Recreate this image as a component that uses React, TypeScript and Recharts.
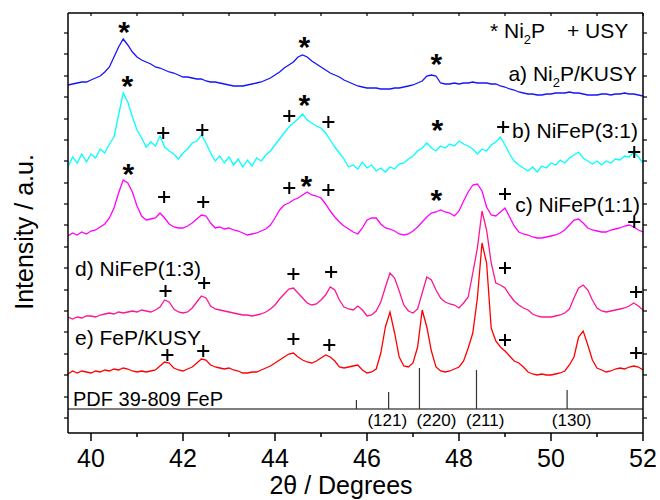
import React from "react";
import { ComposedChart, Line, Scatter, XAxis, YAxis, ReferenceLine } from "recharts";

// 2θ grid (degrees), one value every 0.1°
const twoTheta = [
  39.5, 39.6, 39.7, 39.8, 39.9, 40.0, 40.1, 40.2, 40.3, 40.4,
  40.5, 40.6, 40.7, 40.8, 40.9, 41.0, 41.1, 41.2, 41.3, 41.4,
  41.5, 41.6, 41.7, 41.8, 41.9, 42.0, 42.1, 42.2, 42.3, 42.4,
  42.5, 42.6, 42.7, 42.8, 42.9, 43.0, 43.1, 43.2, 43.3, 43.4,
  43.5, 43.6, 43.7, 43.8, 43.9, 44.0, 44.1, 44.2, 44.3, 44.4,
  44.5, 44.6, 44.7, 44.8, 44.9, 45.0, 45.1, 45.2, 45.3, 45.4,
  45.5, 45.6, 45.7, 45.8, 45.9, 46.0, 46.1, 46.2, 46.3, 46.4,
  46.5, 46.6, 46.7, 46.8, 46.9, 47.0, 47.1, 47.2, 47.3, 47.4,
  47.5, 47.6, 47.7, 47.8, 47.9, 48.0, 48.1, 48.2, 48.3, 48.4,
  48.5, 48.6, 48.7, 48.8, 48.9, 49.0, 49.1, 49.2, 49.3, 49.4,
  49.5, 49.6, 49.7, 49.8, 49.9, 50.0, 50.1, 50.2, 50.3, 50.4,
  50.5, 50.6, 50.7, 50.8, 50.9, 51.0, 51.1, 51.2, 51.3, 51.4,
  51.5, 51.6, 51.7, 51.8, 51.9, 52.0,
];

// stacked intensities (a.u., offsets already included)
const ni2pKusy = [
  348, 349, 350, 351, 351, 353, 355, 357, 361, 366,
  376, 386, 394, 388, 381, 376, 373, 371, 369, 366,
  365, 363, 361, 360, 358, 356, 356, 355, 354, 354,
  352, 351, 351, 350, 349, 348, 347, 347, 347, 348,
  349, 350, 351, 353, 355, 358, 361, 365, 368, 371,
  376, 378, 376, 372, 369, 366, 363, 360, 358, 356,
  353, 351, 349, 347, 346, 345, 345, 345, 344, 344,
  344, 345, 345, 346, 347, 348, 350, 352, 357, 358,
  357, 350, 349, 349, 350, 349, 350, 350, 351, 350,
  350, 350, 349, 349, 347, 346, 344, 343, 341, 340,
  339, 339, 338, 338, 339, 339, 340, 340, 340, 341,
  340, 340, 339, 338, 338, 338, 339, 339, 338, 339,
  339, 340, 339, 339, 338, 337,
];

const nifep31 = [
  266, 276, 270, 279, 271, 279, 275, 284, 280, 289,
  296, 318, 340, 331, 316, 303, 295, 286, 291, 287,
  297, 286, 282, 279, 274, 280, 284, 290, 292, 298,
  290, 280, 272, 277, 270, 276, 268, 274, 266, 273,
  267, 275, 272, 278, 282, 288, 294, 300, 306, 310,
  314, 319, 313, 310, 307, 305, 300, 293, 286, 280,
  274, 266, 268, 264, 271, 265, 268, 262, 265, 261,
  266, 264, 269, 270, 274, 277, 282, 285, 290, 285,
  282, 287, 285, 289, 287, 292, 289, 287, 284, 279,
  284, 282, 288, 291, 296, 288, 279, 272, 268, 265,
  262, 266, 261, 267, 265, 270, 268, 273, 270, 275,
  278, 281, 275, 272, 269, 272, 268, 272, 270, 274,
  273, 277, 276, 281, 276, 270,
];

const nifep11 = [
  197, 200, 198, 201, 199, 202, 203, 206, 209, 215,
  225, 240, 253, 250, 241, 227, 217, 213, 214, 215,
  220, 215, 209, 206, 205, 205, 207, 210, 214, 218,
  217, 210, 205, 206, 204, 205, 203, 202, 200, 198,
  199, 200, 202, 204, 208, 215, 223, 228, 230, 233,
  235, 238, 241, 238, 237, 235, 229, 222, 216, 211,
  207, 204, 201, 199, 205, 213, 215, 215, 209, 205,
  204, 202, 199, 198, 199, 202, 206, 211, 216, 220,
  221, 223, 221, 220, 217, 222, 232, 241, 248, 249,
  242, 226, 218, 217, 221, 225, 216, 207, 201, 199,
  198, 196, 195, 195, 196, 197, 198, 200, 203, 208,
  213, 214, 210, 205, 203, 202, 201, 201, 203, 204,
  205, 207, 208, 206, 203, 201,
];

const nifep13 = [
  116, 114, 116, 115, 117, 117, 116, 118, 119, 120,
  119, 121, 120, 121, 122, 121, 123, 122, 121, 123,
  126, 133, 131, 124, 121, 120, 121, 125, 131, 137,
  135, 127, 124, 123, 122, 121, 120, 119, 118, 118,
  117, 118, 119, 121, 124, 128, 134, 139, 144, 145,
  140, 135, 130, 128, 129, 133, 138, 146, 143, 133,
  126, 124, 123, 127, 123, 117, 118, 122, 131, 146,
  160, 155, 142, 128, 122, 120, 124, 140, 156, 153,
  143, 135, 131, 129, 128, 125, 130, 136, 160, 185,
  222, 203, 170, 150, 148, 145, 138, 132, 128, 125,
  123, 119, 117, 116, 116, 116, 117, 118, 120, 124,
  135, 145, 148, 143, 133, 125, 122, 121, 122, 123,
  124, 125, 127, 130, 127, 123,
];

const fepKusy = [
  59, 62, 60, 62, 61, 60, 62, 61, 63, 62,
  64, 63, 65, 64, 62, 61, 62, 61, 62, 63,
  67, 71, 70, 65, 63, 62, 64, 66, 70, 74,
  73, 68, 66, 65, 64, 65, 63, 62, 60, 60,
  61, 61, 63, 65, 67, 70, 73, 76, 79, 80,
  76, 73, 71, 70, 72, 75, 78, 76, 72, 66,
  65, 66, 67, 68, 63, 60, 61, 64, 80, 106,
  121, 100, 76, 67, 66, 70, 86, 123, 106, 82,
  66, 62, 61, 62, 64, 66, 72, 85, 100, 135,
  190, 170, 105, 92, 86, 82, 77, 72, 70, 66,
  61, 59, 58, 59, 58, 58, 59, 60, 62, 68,
  76, 96, 102, 88, 73, 65, 63, 61, 62, 64,
  65, 64, 66, 67, 66, 63,
];

// Ni2P (*) and USY (+) peak markers
const starMarks = [
  { x: 40.72, y: 408 }, { x: 44.64, y: 393 }, { x: 47.51, y: 376 },
  { x: 40.79, y: 354 }, { x: 44.64, y: 335 }, { x: 47.53, y: 310 },
  { x: 40.81, y: 266 }, { x: 44.68, y: 254 }, { x: 47.51, y: 240 },
];

const plusMarks = [
  { x: 41.57, y: 300 }, { x: 42.42, y: 303 }, { x: 44.31, y: 317 }, { x: 45.16, y: 311 }, { x: 48.96, y: 306 }, { x: 51.81, y: 281 },
  { x: 41.59, y: 236 }, { x: 42.44, y: 231 }, { x: 44.31, y: 245 }, { x: 45.16, y: 243 }, { x: 49.0, y: 239 }, { x: 51.81, y: 211 },
  { x: 41.62, y: 142 }, { x: 42.46, y: 150 }, { x: 44.4, y: 159 }, { x: 45.22, y: 161 }, { x: 49.0, y: 165 }, { x: 51.85, y: 141 },
  { x: 41.66, y: 78 }, { x: 42.44, y: 82 }, { x: 44.4, y: 94 }, { x: 45.18, y: 88 }, { x: 49.0, y: 93 }, { x: 51.85, y: 80 },
];

// PDF 39-809 FeP reference sticks
const pdfBase = 24;
const pdfPositions = [45.77, 46.47, 47.14, 48.38, 50.35];
const pdfHeights = [9, 17, 41, 39, 19];
const pdfLabels = [
  { x: 46.44, y: 7, text: "(121)" },
  { x: 47.51, y: 7, text: "(220)" },
  { x: 48.57, y: 7, text: "(211)" },
  { x: 50.45, y: 7, text: "(130)" },
];

const bottomTicks = [40, 41, 42, 43, 44, 45, 46, 47, 48, 49, 50, 51, 52];
const yTicks = [15, 36, 58, 79, 101, 122, 143, 165, 186, 208, 229, 250, 272, 293, 314, 336, 357, 379, 400];

const FONT = "'Liberation Sans', Arial, sans-serif";

const toPoints = (ys: number[]) => twoTheta.map((x, i) => ({ x, y: ys[i] }));

const series = [
  { name: "a", data: toPoints(ni2pKusy), color: "#1414ff" },
  { name: "b", data: toPoints(nifep31), color: "#00ffff" },
  { name: "c", data: toPoints(nifep11), color: "#ff00ff" },
  { name: "d", data: toPoints(nifep13), color: "#ff1493" },
  { name: "e", data: toPoints(fepKusy), color: "#ff0000" },
];

const BottomTick = (props: any) => {
  const { x, y, payload } = props;
  const major = payload.value % 2 === 0;
  return (
    <g>
      <line x1={x} x2={x} y1={y} y2={y + (major ? 8 : 4)} stroke="#000" strokeWidth={1.5} />
      {major && (
        <text x={x} y={y + 34} textAnchor="middle" fontSize={25} fontFamily={FONT} fill="#000">
          {payload.value}
        </text>
      )}
    </g>
  );
};

const TopTick = (props: any) => (
  <line x1={props.x} x2={props.x} y1={props.y} y2={props.y + 3} stroke="#000" strokeWidth={1.2} />
);

const LeftTick = (props: any) => (
  <line x1={props.x - 4} x2={props.x} y1={props.y} y2={props.y} stroke="#000" strokeWidth={1.2} />
);

const RightTick = (props: any) => (
  <line x1={props.x} x2={props.x + 4} y1={props.y} y2={props.y} stroke="#000" strokeWidth={1.2} />
);

const StarShape = (props: any) => (
  <text x={props.cx} y={props.cy + 17} textAnchor="middle" fontSize={30} fontWeight="bold" fontFamily={FONT} fill="#000">
    *
  </text>
);

const PlusShape = (props: any) => {
  const { cx, cy } = props;
  return <path d={`M${cx - 6},${cy}H${cx + 6}M${cx},${cy - 6}V${cy + 6}`} stroke="#000" strokeWidth={2} fill="none" />;
};

const PdfLabel = (props: any) => (
  <text x={props.cx} y={props.cy} textAnchor="middle" fontSize={17} fontFamily={FONT} fill="#000">
    {props.payload.text}
  </text>
);

const axisLine = { stroke: "#000", strokeWidth: 1.5 };

export default function App() {
  return (
    <div style={{ position: "absolute", left: 0, top: 0, width: 660, height: 500, background: "#fff" }}>
      <ComposedChart width={660} height={500} margin={{ top: 0, right: 0, bottom: 0, left: 0 }}>
        <XAxis
          type="number"
          dataKey="x"
          domain={[39.5, 52]}
          allowDataOverflow
          ticks={bottomTicks}
          interval={0}
          height={67}
          tickSize={0}
          tickMargin={0}
          tickLine={false}
          axisLine={axisLine}
          tick={(p: any) => <BottomTick {...p} />}
        />
        <XAxis
          xAxisId="top"
          orientation="top"
          type="number"
          dataKey="x"
          domain={[39.5, 52]}
          allowDataOverflow
          ticks={bottomTicks}
          interval={0}
          height={13}
          tickSize={0}
          tickMargin={0}
          tickLine={false}
          axisLine={axisLine}
          tick={(p: any) => <TopTick {...p} />}
        />
        <YAxis
          type="number"
          domain={[0, 420]}
          allowDataOverflow
          ticks={yTicks}
          interval={0}
          width={68}
          tickSize={0}
          tickMargin={0}
          tickLine={false}
          axisLine={axisLine}
          tick={(p: any) => <LeftTick {...p} />}
        />
        <YAxis
          yAxisId="right"
          orientation="right"
          type="number"
          domain={[0, 420]}
          allowDataOverflow
          ticks={yTicks}
          interval={0}
          width={17}
          tickSize={0}
          tickMargin={0}
          tickLine={false}
          axisLine={axisLine}
          tick={(p: any) => <RightTick {...p} />}
        />

        <ReferenceLine y={pdfBase} stroke="#555" strokeWidth={1.5} />
        {pdfPositions.map((p, i) => (
          <ReferenceLine
            key={p}
            segment={[{ x: p, y: pdfBase }, { x: p, y: pdfBase + pdfHeights[i] }]}
            stroke="#333"
            strokeWidth={1.2}
          />
        ))}

        {series.map((s) => (
          <Line
            key={s.name}
            data={s.data}
            dataKey="y"
            type="linear"
            stroke={s.color}
            strokeWidth={1.3}
            dot={false}
            isAnimationActive={false}
          />
        ))}

        <Scatter data={starMarks} dataKey="y" shape={(p: any) => <StarShape {...p} />} isAnimationActive={false} />
        <Scatter data={plusMarks} dataKey="y" shape={(p: any) => <PlusShape {...p} />} isAnimationActive={false} />
        <Scatter data={pdfLabels} dataKey="y" shape={(p: any) => <PdfLabel {...p} />} isAnimationActive={false} />
      </ComposedChart>

      <svg
        width={660}
        height={500}
        style={{ position: "absolute", left: 0, top: 0, pointerEvents: "none" }}
        fontFamily={FONT}
        fill="#000"
      >
        <text x={490} y={38} fontSize={21}>
          * Ni<tspan dy={6} fontSize={13}>2</tspan>
          <tspan dy={-6}>P</tspan>
        </text>
        <text x={567} y={38} fontSize={21}>+ USY</text>

        <text x={637} y={81} fontSize={21} textAnchor="end">
          a) Ni<tspan dy={6} fontSize={13}>2</tspan>
          <tspan dy={-6}>P/KUSY</tspan>
        </text>
        <text x={638} y={138} fontSize={21} textAnchor="end">b) NiFeP(3:1)</text>
        <text x={640} y={212} fontSize={21} textAnchor="end">c) NiFeP(1:1)</text>
        <text x={75} y={276} fontSize={21}>d) NiFeP(1:3)</text>
        <text x={75} y={345} fontSize={21}>e) FeP/KUSY</text>
        <text x={73} y={406} fontSize={20}>PDF 39-809 FeP</text>

        <text transform="translate(33,232) rotate(-90)" textAnchor="middle" fontSize={25}>
          Intensity / a.u.
        </text>
        <text x={341} y={494} textAnchor="middle" fontSize={25}>
          2θ / Degrees
        </text>
      </svg>
    </div>
  );
}
